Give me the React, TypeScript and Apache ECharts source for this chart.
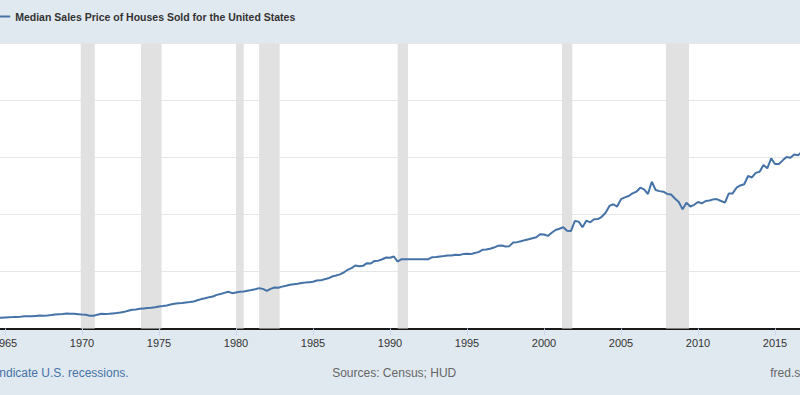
import React, { useEffect, useRef } from "react";
import * as echarts from "echarts";

// Quarterly median sales price (USD), first value is 1964 Q3
const firstQuarter = 1964.5;
const prices: number[] = [
  18500, 18900,
  19500, 19800, 20000, 20300,
  20800, 21500, 21300, 21400,
  22000, 22600, 22500, 23000,
  23600, 24400, 25000, 25500,
  26300, 26000, 25900, 25200,
  24500, 24000, 22500, 22300,
  24300, 25800, 25500, 25700,
  26500, 27000, 28000, 29200,
  31000, 32800, 33500, 34500,
  35200, 35800, 36300, 37200,
  38600, 39300, 40500, 42000,
  43300, 44300, 44700, 45500,
  46300, 47400, 49500, 51600,
  53000, 55000, 56100, 59000,
  60500, 62500, 64400, 62000,
  63300, 64300, 64900, 66400,
  67500, 69000, 70800, 69500,
  66000, 69500, 71900, 71500,
  73500, 75000, 76600, 77600,
  78600, 80000, 80500, 81300,
  82000, 84200, 84500, 86500,
  88000, 91200, 93000, 95000,
  98200, 103000, 106000, 110500,
  109300, 110000, 114600, 114000,
  118600, 119000, 121500, 124600,
  124000, 126300, 117500, 121700,
  121500, 121700, 121700, 121600,
  121500, 121700, 121700, 125200,
  125500, 126500, 127000, 128000,
  128000, 129500, 129000, 130500,
  131000, 130500, 132500, 134000,
  138000, 138500, 140000, 142000,
  145000, 145500, 144000, 144500,
  150700, 151500, 153000, 155000,
  156500, 158300, 160000, 165300,
  165000, 162400, 168000, 172900,
  175000, 177600, 171700, 171000,
  188600, 187500, 177600, 189200,
  186300, 191600, 192000, 196000,
  203000, 215000, 218000, 214000,
  227000, 230000, 232500, 237000,
  240000, 247000, 244000, 236000,
  257400, 243000, 241000, 240000,
  236000, 235000, 228000, 222000,
  209000, 220700, 214000, 217000,
  222000, 219600, 223700, 224500,
  226600, 226600, 223700, 220700,
  237000, 237000, 247000, 251000,
  253000, 267500, 265000, 273000,
  275000, 286700, 281000, 298400,
  288500, 288500, 295000, 301000,
  299500, 305400, 304000, 310000,
];

const recessionStarts = ["1969-12", "1973-11", "1980-01", "1981-07", "1990-07", "2001-03", "2007-12"];
const recessionEnds = ["1970-11", "1975-03", "1980-07", "1982-11", "1991-03", "2001-11", "2009-06"];

const seriesName = "Median Sales Price of Houses Sold for the United States";
const recessionNote = "Shaded areas indicate U.S. recessions.";
const sourceNote = "Sources: Census; HUD";
const siteNote = "fred.stlouisfed.org";

const toYear = (ym: string) => {
  const [y, m] = ym.split("-").map(Number);
  return y + (m - 1) / 12;
};

const FONT = "'Liberation Sans', Arial, Helvetica, sans-serif";
// the visible window is a crop of a wider chart
const OFFSET = 72.2;
const CHART_W = 923.5;

export default function App() {
  const ref = useRef<HTMLDivElement>(null);
  useEffect(() => {
    document.body.style.margin = "0";
    const chart = echarts.init(ref.current!, null, { renderer: "svg" });
    const data = prices.map((v, i) => [firstQuarter + i * 0.25, v]);
    const areas = recessionStarts.map((s, i) => [
      { xAxis: toYear(s) },
      { xAxis: toYear(recessionEnds[i]) },
    ]);
    chart.setOption({
      animation: false,
      backgroundColor: "#e1e9f0",
      textStyle: { fontFamily: FONT },
      grid: {
        show: true,
        backgroundColor: "#ffffff",
        borderWidth: 0,
        left: 0,
        right: 0,
        top: 43.5,
        bottom: 66.5,
        containLabel: false,
        outerBoundsMode: "none",
      },
      xAxis: {
        type: "value",
        min: 1960,
        max: 2020,
        interval: 5,
        axisLine: { show: true, lineStyle: { color: "#1a1a1a", width: 2 } },
        axisTick: { show: true, length: 7, lineStyle: { color: "#ccd6eb", width: 1 } },
        axisLabel: {
          color: "#333333",
          fontSize: 11,
          margin: 9,
          fontFamily: FONT,
          formatter: (v: number) => String(Math.round(v)),
        },
        splitLine: { show: false },
      },
      yAxis: {
        type: "value",
        min: 0,
        max: 500000,
        interval: 100000,
        axisLine: { show: false },
        axisTick: { show: false },
        axisLabel: { show: false },
        splitLine: { show: true, lineStyle: { color: "#e6e6e6", width: 1 } },
      },
      series: [
        {
          type: "line",
          name: seriesName,
          data,
          showSymbol: false,
          symbol: "none",
          clip: true,
          lineStyle: { color: "#4572a7", width: 2 },
          itemStyle: { color: "#4572a7" },
          markArea: {
            silent: true,
            itemStyle: { color: "#e1e1e1" },
            data: areas,
          },
        },
      ],
      graphic: [
        {
          type: "line",
          shape: { x1: OFFSET - 2, y1: 16.5, x2: OFFSET + 10, y2: 16.5 },
          style: { stroke: "#4572a7", lineWidth: 2 },
        },
        {
          type: "text",
          x: OFFSET + 15,
          y: 16.5,
          style: {
            text: seriesName,
            fill: "#333333",
            font: `bold 10.5px ${FONT}`,
            verticalAlign: "middle",
          },
        },
        {
          type: "text",
          x: OFFSET + 128.5,
          y: 373,
          style: {
            text: recessionNote,
            fill: "#4572a7",
            font: `12px ${FONT}`,
            align: "right",
            verticalAlign: "middle",
          },
        },
        {
          type: "text",
          x: OFFSET + 394,
          y: 373,
          style: {
            text: sourceNote,
            fill: "#666666",
            font: `12px ${FONT}`,
            align: "center",
            verticalAlign: "middle",
          },
        },
        {
          type: "text",
          x: OFFSET + 770,
          y: 373,
          style: {
            text: siteNote,
            fill: "#666666",
            font: `12px ${FONT}`,
            verticalAlign: "middle",
          },
        },
      ],
    });
    return () => chart.dispose();
  }, []);
  return (
    <div
      style={{
        position: "fixed",
        left: 0,
        top: 0,
        width: 800,
        height: 395,
        overflow: "hidden",
        background: "#e1e9f0",
      }}
    >
      <div
        ref={ref}
        style={{
          position: "absolute",
          left: -OFFSET,
          top: 0,
          width: CHART_W,
          height: 395,
        }}
      />
    </div>
  );
}
